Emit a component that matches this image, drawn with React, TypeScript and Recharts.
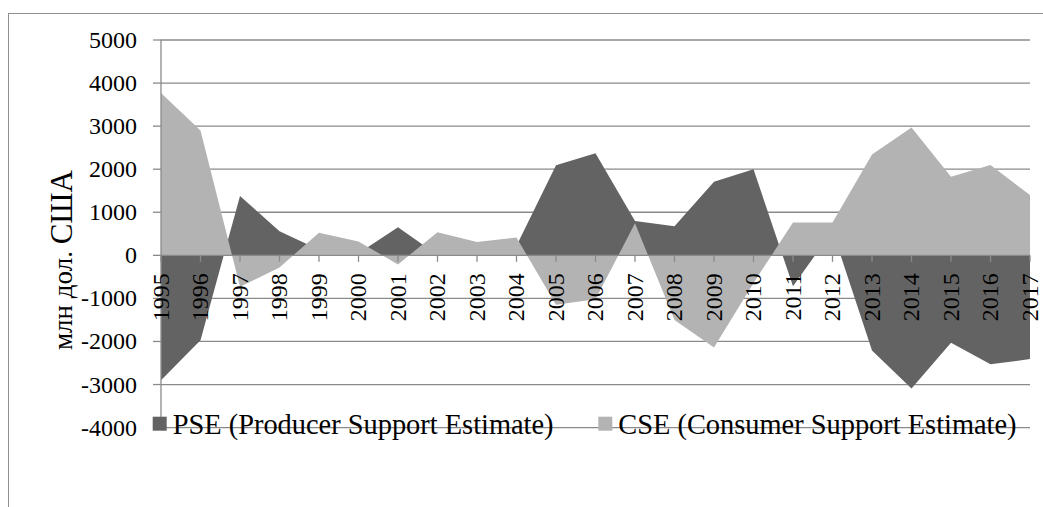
import React from "react";
import {
  AreaChart,
  Area,
  XAxis,
  YAxis,
  CartesianGrid,
  ReferenceLine,
} from "recharts";

const years = [
  "1995", "1996", "1997", "1998", "1999", "2000", "2001", "2002", "2003", "2004", "2005", "2006",
  "2007", "2008", "2009", "2010", "2011", "2012", "2013", "2014", "2015", "2016", "2017",
];
const pse = [
  -2900, -1970, 1380, 560, 130, 50, 650, 10, 150, 220, 2090, 2370,
  800, 675, 1710, 2000, -720, 570, -2210, -3090, -2030, -2530, -2410,
];
const cse = [
  3770, 2900, -730, -280, 525, 320, -210, 535, 310, 415, -1150, -1020,
  743, -1500, -2140, -640, 760, 760, 2340, 2970, 1825, 2095, 1400,
];
const yTicks = [-4000, -3000, -2000, -1000, 0, 1000, 2000, 3000, 4000, 5000];
const Y_MIN = -4000;
const Y_MAX = 5000;

const seriesInfo = [
  { key: "pse", name: "PSE (Producer Support Estimate)", color: "#636363" },
  { key: "cse", name: "CSE (Consumer Support Estimate)", color: "#b3b3b3" },
];

const data = years.map((y, i) => ({ year: y, pse: pse[i], cse: cse[i] }));

const W = 1043;
const H = 507;
const PLOT_LEFT = 161;
const PLOT_TOP = 40;
const PLOT_RIGHT = 1030;
const PLOT_BOTTOM = 427.6;
const Y_AXIS_W = 100;
const X_AXIS_H = 2;
const PLOT_H = PLOT_BOTTOM - PLOT_TOP;
const ZERO_Y = PLOT_TOP + (PLOT_H * (Y_MAX - 0)) / (Y_MAX - Y_MIN);

const GRID = "#8a8a8a";
const FRAME = "#8f8f8f";
const FONT = "'Liberation Serif', 'Times New Roman', serif";

const XTick = (props: any) => {
  const { x, payload } = props;
  const ty = ZERO_Y + 18;
  return (
    <g>
      <line x1={x} y1={ZERO_Y} x2={x} y2={ZERO_Y + 6.5} stroke={GRID} strokeWidth={1.3} />
      <text
        x={x}
        y={ty}
        transform={`rotate(-90, ${x}, ${ty})`}
        textAnchor="end"
        dominantBaseline="central"
        fontFamily={FONT}
        fontSize={24}
        fill="#000"
      >
        {payload.value}
      </text>
    </g>
  );
};

const YTick = (props: any) => {
  const { x, y, payload } = props;
  return (
    <text
      x={x}
      y={y}
      textAnchor="end"
      dominantBaseline="central"
      fontFamily={FONT}
      fontSize={24}
      fill="#000"
    >
      {payload.value}
    </text>
  );
};

const legendPos = [
  { sx: 152.7, tx: 172.7 },
  { sx: 598.3, tx: 618.3 },
];

export default function App() {
  return (
    <div style={{ position: "fixed", left: 0, top: 0, width: W, height: H, background: "#fff", overflow: "hidden" }}>
      <style>{`html,body{margin:0;padding:0;overflow:hidden;background:#fff}`}</style>
      <div style={{ position: "absolute", left: 8, top: 13, width: W - 8, height: 1.3, background: FRAME }} />
      <div style={{ position: "absolute", left: 8, top: 13, width: 1.3, height: H - 13, background: FRAME }} />
      <div style={{ position: "absolute", left: 0, top: 0 }}>
        <AreaChart
          width={W}
          height={H}
          data={data}
          margin={{
            top: PLOT_TOP,
            right: W - PLOT_RIGHT,
            left: PLOT_LEFT - Y_AXIS_W,
            bottom: H - PLOT_BOTTOM - X_AXIS_H,
          }}
        >
          <CartesianGrid vertical={false} stroke={GRID} strokeWidth={1.3} />
          <YAxis
            type="number"
            domain={[Y_MIN, Y_MAX]}
            ticks={yTicks}
            interval={0}
            width={Y_AXIS_W}
            axisLine={{ stroke: GRID, strokeWidth: 1.3 }}
            tickLine={{ stroke: GRID, strokeWidth: 1.3 }}
            tickSize={8}
            tickMargin={16}
            tick={<YTick />}
          />
          {seriesInfo.map((s) => (
            <Area
              key={s.key}
              type="linear"
              dataKey={s.key}
              name={s.name}
              stroke="none"
              fill={s.color}
              fillOpacity={1}
              baseValue={0}
              isAnimationActive={false}
              dot={false}
              activeDot={false}
            />
          ))}
          <ReferenceLine y={0} stroke={GRID} strokeWidth={1.3} />
          <XAxis
            dataKey="year"
            interval={0}
            height={X_AXIS_H}
            axisLine={false}
            tickLine={false}
            tick={<XTick />}
          />
        </AreaChart>
      </div>
      <svg style={{ position: "absolute", left: 30, top: 150, display: "block" }} width={60} height={220}>
        <text
          x={42}
          y={110}
          transform="rotate(-90, 42, 110)"
          textAnchor="middle"
          fontFamily={FONT}
          fill="#000"
        >
          <tspan fontSize={27}>млн дол. </tspan>
          <tspan fontSize={31}>США</tspan>
        </text>
      </svg>
      <svg style={{ position: "absolute", left: 140, top: 400, display: "block" }} width={890} height={45}>
        {seriesInfo.map((s, i) => (
          <g key={s.key}>
            <rect x={legendPos[i].sx - 140} y={16.7} width={14} height={14} fill={s.color} />
            <text x={legendPos[i].tx - 140} y={34.3} fontFamily={FONT} fontSize={28.4} fill="#000">
              {s.name}
            </text>
          </g>
        ))}
      </svg>
    </div>
  );
}
